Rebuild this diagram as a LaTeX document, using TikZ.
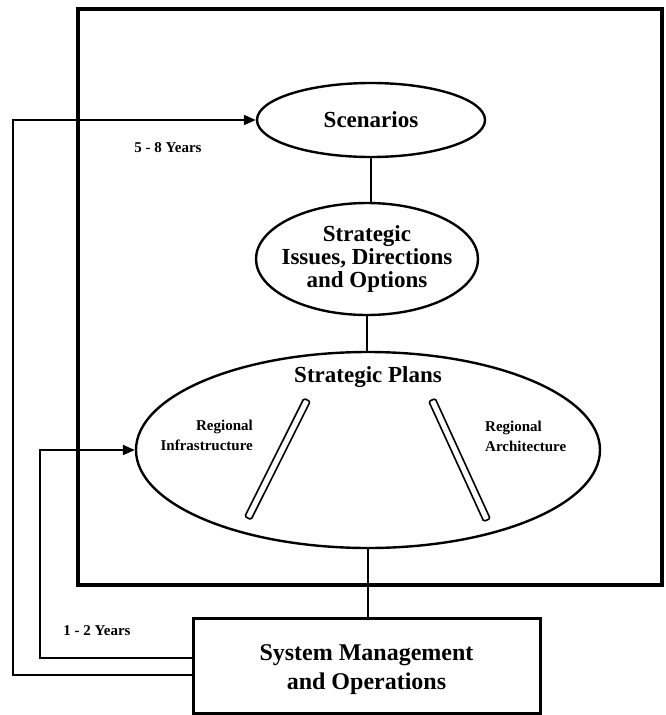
\documentclass[tikz,border=0pt]{standalone}
\usepackage{fontspec}
\setmainfont{Liberation Serif}
\usetikzlibrary{arrows.meta,shapes.geometric,positioning}

\tikzset{
  bubble/.style={draw,ellipse,line width=2.4pt,inner sep=0pt},
  bigtext/.style={font=\fontsize{23}{23}\selectfont\bfseries,align=center,inner sep=0pt},
  smalltext/.style={font=\fontsize{15}{20}\selectfont\bfseries,inner sep=0pt},
  link/.style={line width=2pt},
  feedback/.style={line width=2pt,-{Triangle[length=12pt,width=10pt]}},
  slat/.style={draw,line width=1.6pt,rounded corners=1.5pt,minimum width=132pt,minimum height=7pt,inner sep=0pt}
}

\begin{document}
\begin{tikzpicture}[x=1pt,y=-1pt]
\useasboundingbox (0,0) rectangle (666,715);

\draw[line width=3.4pt] (78,9) rectangle (662,585);

\node[bubble,minimum width=228pt,minimum height=74pt] (scen) at (371,120) {};
\node[bigtext] (scentxt) at (scen) {Scenarios};

\node[bubble,minimum width=222pt,minimum height=112pt] (issues) at (367,259) {};
\node[bigtext] (issuestxt) at (issues) {Strategic\\Issues, Directions\\and Options};

\node[bubble,minimum width=464pt,minimum height=196pt] (plans) at (368,450) {};
\node[bigtext] (planstxt) at (368,377) {Strategic Plans};

\node[slat,rotate=63.4] (infra) at (277.5,459) {};
\node[slat,rotate=-65.4] (arch) at (459.5,460) {};
\node[smalltext,align=right,anchor=east] (infratxt) at (253,435) {Regional\\Infrastructure};
\node[smalltext,align=left,anchor=west] (archtxt) at (485,436) {Regional\\Architecture};

\node[draw,line width=3pt,minimum width=347pt,minimum height=95pt,inner sep=0pt] (ops) at (366.5,665.5) {};
\node[bigtext,font=\fontsize{24}{29}\selectfont\bfseries] (opstxt) at (366.5,670) {System Management\\and Operations};

\draw[link] (scen.south) -- (scen.south |- issues.north);
\draw[link] (issues.south) -- (issues.south |- plans.north);
\draw[link] (plans.south) -- (plans.south |- ops.north);

\path (ops.west) ++(0,9.5) coordinate (outfoot);
\path (ops.west) ++(0,-7.5) coordinate (infoot);
\coordinate (outer) at (13,120);
\coordinate (inner) at (40,450);
\draw[feedback] (outfoot) -| (outer) -- (scen.west);
\draw[feedback] (infoot) -| (inner) -- (plans.west);

\node[smalltext] (longterm) at (168,148) {5 - 8 Years};
\node[smalltext] (shortterm) at (97,631) {1 - 2 Years};
\end{tikzpicture}
\end{document}
